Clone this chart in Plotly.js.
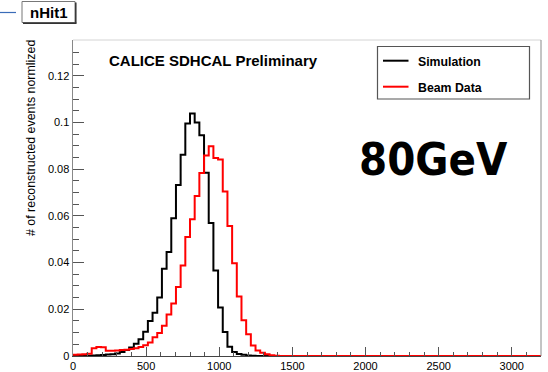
<!DOCTYPE html>
<html><head><meta charset="utf-8">
<script src="https://cdn.plot.ly/plotly-3.0.1.min.js"></script>
<style>html,body{margin:0;padding:0;background:#fff;}#chart{width:548px;height:372px;}</style>
</head><body><div id="chart"></div>
<script>
// Histogram binning (nHit1): 100 bins on [0, 3200]
const binLow = 0;
const binHigh = 3200;
const nBins = 100;

// Normalized fraction of reconstructed events per bin
const simulation = [
  0, 0, 0, 0.0001, 0.0002, 0.0003, 0.0004, 0.0006, 0.0008, 0.0011,
  0.0017, 0.0026, 0.0036, 0.0052, 0.0072, 0.0104, 0.015, 0.0185, 0.025, 0.0374,
  0.0445, 0.059, 0.0732, 0.0862, 0.0995, 0.1038, 0.1, 0.0945, 0.0785, 0.0569,
  0.0366, 0.0208, 0.0103, 0.004, 0.0017, 0.0009, 0.0005, 0.0002, 0.0001, 0,
  0, 0, 0, 0, 0, 0, 0, 0, 0, 0,
  0, 0, 0, 0, 0, 0, 0, 0, 0, 0,
  0, 0, 0, 0, 0, 0, 0, 0, 0, 0,
  0, 0, 0, 0, 0, 0, 0, 0, 0, 0,
  0, 0, 0, 0, 0, 0, 0, 0, 0, 0,
  0, 0, 0, 0, 0, 0, 0, 0, 0, 0
];
const beamData = [
  0.0005, 0.0006, 0.0008, 0.001, 0.0033, 0.0038, 0.0037, 0.0022, 0.0022, 0.0024,
  0.0026, 0.0027, 0.003, 0.0033, 0.0038, 0.0046, 0.0058, 0.008, 0.0098, 0.013,
  0.0178, 0.0225, 0.0295, 0.0387, 0.051, 0.0586, 0.0685, 0.0784, 0.0858, 0.0898,
  0.0848, 0.0841, 0.0704, 0.0557, 0.0397, 0.0255, 0.0153, 0.0093, 0.0045, 0.0024,
  0.0014, 0.0007, 0.0003, 0.0001, 0, 0, 0, 0, 0, 0,
  0, 0, 0, 0, 0, 0, 0, 0, 0, 0,
  0, 0, 0, 0, 0, 0, 0, 0, 0, 0,
  0, 0, 0, 0, 0, 0, 0, 0, 0, 0,
  0, 0, 0, 0, 0, 0, 0, 0, 0, 0,
  0, 0, 0, 0, 0, 0, 0, 0, 0, 0
];

const seriesNames = ["Simulation", "Beam Data"];
const histName = "nHit1";
const headerText = "CALICE SDHCAL Preliminary";
const energyLabel = "80GeV";
const yTitle = "# of reconstructed events normlized";

// ---- layout helpers (pixel -> paper) ----
const W = 548, H = 372;
const M = {l: 73, r: 7, t: 40, b: 16};
const PW = W - M.l - M.r, PH = H - M.t - M.b;
const px = x => (x - M.l) / PW;
const py = y => (H - M.b - y) / PH;

const binWidth = (binHigh - binLow) / nBins;
function stepXY(vals) {
  const xs = [], ys = [];
  for (let i = 0; i < vals.length; i++) { xs.push(binLow + i * binWidth); ys.push(vals[i]); }
  xs.push(binHigh); ys.push(vals[vals.length - 1]);
  return {xs, ys};
}
const s1 = stepXY(simulation), s2 = stepXY(beamData);

const FONT = "Liberation Sans, Arial, Helvetica, sans-serif";

const traces = [
  {x: s1.xs, y: s1.ys, type: "scatter", mode: "lines", name: seriesNames[0],
   line: {shape: "hv", color: "#000000", width: 2}, showlegend: false, hoverinfo: "skip"},
  {x: s2.xs, y: s2.ys, type: "scatter", mode: "lines", name: seriesNames[1],
   line: {shape: "hv", color: "#ff0000", width: 2}, showlegend: false, hoverinfo: "skip"}
];

const layout = {
  width: W, height: H,
  margin: M,
  paper_bgcolor: "#ffffff", plot_bgcolor: "#ffffff",
  showlegend: false,
  font: {family: FONT, size: 11, color: "#000"},
  xaxis: {
    range: [binLow, binHigh], dtick: 500, tick0: 0,
    ticks: "inside", ticklen: 9, tickwidth: 1, tickcolor: "#555",
    minor: {ticks: "inside", dtick: 100, ticklen: 4.5, tickwidth: 1, tickcolor: "#555", showgrid: false},
    showline: true, linecolor: "#444", linewidth: 1,
    showgrid: false, zeroline: false,
    tickfont: {family: FONT, size: 11, color: "#000"}
  },
  yaxis: {
    range: [0, 0.1353], dtick: 0.02, tick0: 0,
    ticks: "inside", ticklen: 11, tickwidth: 1, tickcolor: "#555",
    minor: {ticks: "inside", dtick: 0.005, ticklen: 6, tickwidth: 1, tickcolor: "#555", showgrid: false},
    showline: true, linecolor: "#888", linewidth: 1.5,
    showgrid: false, zeroline: false,
    tickfont: {family: FONT, size: 11, color: "#000"}
  },
  shapes: [
    // frame top and right
    {type: "line", xref: "paper", yref: "paper", x0: 0, x1: 1, y0: 1, y1: 1, line: {color: "#d4d4d4", width: 1}},
    {type: "line", xref: "paper", yref: "paper", x0: 1, x1: 1, y0: 0, y1: 1, line: {color: "#8a8a8a", width: 1}},
    // legend box
    {type: "rect", xref: "paper", yref: "paper", x0: px(377.5), x1: px(529.5), y0: py(99), y1: py(46.5),
     line: {color: "#555", width: 1.2}, fillcolor: "rgba(255,255,255,0)"},
    {type: "line", xref: "paper", yref: "paper", x0: px(383), x1: px(408.5), y0: py(60.7), y1: py(60.7),
     line: {color: "#000", width: 2}},
    {type: "line", xref: "paper", yref: "paper", x0: px(383), x1: px(408.5), y0: py(86.7), y1: py(86.7),
     line: {color: "#ff0000", width: 2}},
    // histogram name box (with shadow)
    {type: "rect", xref: "paper", yref: "paper", x0: px(22), x1: px(75), y0: py(22.5), y1: py(1.5),
     line: {color: "#777", width: 1}, fillcolor: "#ffffff"},
    {type: "line", xref: "paper", yref: "paper", x0: px(23), x1: px(76.5), y0: py(23.3), y1: py(23.3),
     line: {color: "#333", width: 1.5}},
    {type: "line", xref: "paper", yref: "paper", x0: px(75.8), x1: px(75.8), y0: py(23.3), y1: py(2.5),
     line: {color: "#333", width: 1.5}},
    // blue stub line at top-left
    {type: "line", xref: "paper", yref: "paper", x0: px(0), x1: px(16), y0: py(12.5), y1: py(12.5),
     line: {color: "#3a6cb8", width: 1.2}}
  ],
  annotations: [
    {xref: "paper", yref: "paper", x: px(49), y: py(12.5), text: "<b>" + histName + "</b>", showarrow: false,
     xanchor: "center", yanchor: "middle", font: {family: FONT, size: 15, color: "#000"}},
    {xref: "paper", yref: "paper", x: px(213), y: py(60), text: "<b>" + headerText + "</b>", showarrow: false,
     xanchor: "center", yanchor: "middle", font: {family: FONT, size: 15, color: "#000"}},
    {xref: "paper", yref: "paper", x: px(415.5), y: py(62), text: "<b>" + seriesNames[0] + "</b>", showarrow: false,
     xanchor: "left", yanchor: "middle", font: {family: FONT, size: 12.3, color: "#000"}},
    {xref: "paper", yref: "paper", x: px(415.5), y: py(87.7), text: "<b>" + seriesNames[1] + "</b>", showarrow: false,
     xanchor: "left", yanchor: "middle", font: {family: FONT, size: 12.3, color: "#000"}},
    {xref: "paper", yref: "paper", x: px(433), y: py(159), text: "<b>" + energyLabel + "</b>", showarrow: false,
     xanchor: "center", yanchor: "middle",
     font: {family: "DejaVu Sans Condensed, DejaVu Sans, sans-serif", size: 45, color: "#000"}},
    {xref: "paper", yref: "paper", x: px(31.7), y: py(138.3), text: yTitle, showarrow: false, textangle: -90,
     xanchor: "center", yanchor: "middle", font: {family: FONT, size: 12.4, color: "#000"}}
  ]
};

Plotly.newPlot("chart", traces, layout, {displayModeBar: false, staticPlot: true});
</script>
</body></html>
